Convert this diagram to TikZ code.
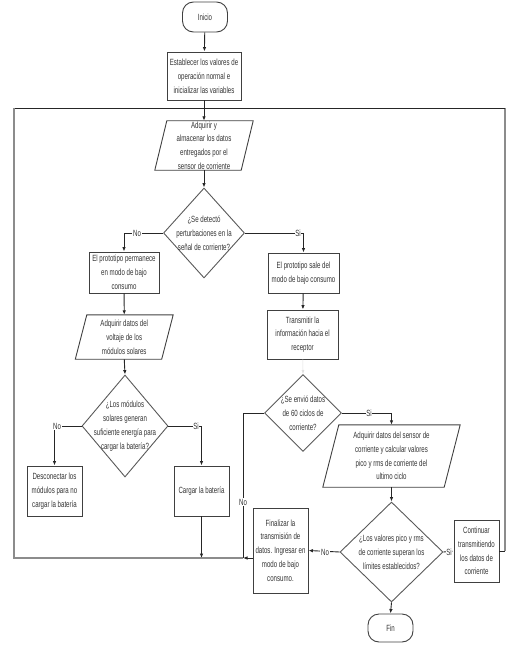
\documentclass[tikz,border=0pt]{standalone}
\usepackage{fontspec}
\newfontfamily\nar[FakeStretch=0.68]{Liberation Sans}
\usetikzlibrary{shapes.geometric,arrows.meta}
\newcommand\drawpara[2]{\draw[shp] ([xshift=#2]#1.north west) -- ([xshift=#2]#1.north east) -- ([xshift=-#2]#1.south east) -- ([xshift=-#2]#1.south west) -- cycle;}
\begin{document}
\begin{tikzpicture}[x=1pt,y=-1pt,
  every node/.style={font=\nar\fontsize{9}{13.8}\selectfont, text=black!80, align=center, inner sep=0pt},
  shp/.style={draw=black!75, line width=0.9pt},
  box/.style={shp, rectangle},
  dec/.style={draw=black!65, line width=0.9pt, diamond},
  iob/.style={rectangle},
  term/.style={shp, rectangle, rounded corners=11pt},
  con/.style={draw=black!85, line width=0.9pt},
  arr/.style={con, -{Latex[length=4.5pt,width=3.5pt]}},
  lbl/.style={fill=white, inner sep=0.6pt, font=\nar\fontsize{9}{10}\selectfont},
  loopl/.style={draw=black!45, line width=1.3pt}
]
\useasboundingbox (0,0) rectangle (511,650);

% nodes
\node[term, minimum width=45pt, minimum height=30pt] (start) at (205,17) {Inicio};
\node[box, minimum width=74pt, minimum height=48pt] (init) at (204,76) {Establecer los valores de\\operación normal e\\inicializar las variables};
\node[iob, minimum width=86pt, minimum height=49pt] (p1) at (204,145.5) {Adquirir y\\almacenar los datos\\entregados por el\\sensor de corriente};
\drawpara{p1}{6pt}
\node[dec, minimum width=81pt, minimum height=90pt] (d1) at (204,233) {};
\node (d1t) at (d1) {¿Se detectó\\perturbaciones en la\\señal de corriente?};

\node[box, minimum width=70pt, minimum height=41pt] (l1) at (124,272.5) {El prototipo permanece\\en modo de bajo\\consumo};
\node[iob, minimum width=86pt, minimum height=44pt] (pl) at (124.25,337) {Adquirir datos del\\voltaje de  los\\módulos solares};
\drawpara{pl}{5.75pt}
\node[dec, minimum width=86pt, minimum height=102pt] (dl) at (125,426) {};
\node (dlt) at (dl) {¿Los módulos\\solares generan\\suficiente energía para\\cargar la batería?};
\node[box, minimum width=55pt, minimum height=50pt] (desc) at (54.5,491) {Desconectar los\\módulos para no\\cargar la batería};
\node[box, minimum width=55pt, minimum height=50pt] (carg) at (201.5,491) {Cargar la batería};

\node[box, minimum width=71pt, minimum height=40pt] (r1) at (303.5,273) {El prototipo sale del\\modo de bajo consumo};
\node[box, minimum width=71pt, minimum height=49pt] (tr) at (302.5,334.5) {Transmitir la\\información hacia el\\receptor};
\node[dec, minimum width=77pt, minimum height=77pt] (dr1) at (303,413) {};
\node (dr1t) at (dr1) {¿Se envió datos\\de 60 ciclos de\\corriente?};
\node[iob, minimum width=121pt, minimum height=62pt] (pr) at (391.5,456) {Adquirir datos del sensor de\\corriente y calcular valores\\pico y rms de corriente del\\ultimo ciclo};
\drawpara{pr}{8pt}
\node[dec, minimum width=103pt, minimum height=100pt] (dr2) at (391.5,552) {};
\node (dr2t) at (dr2) {¿Los valores pico y rms\\de corriente superan los\\límites establecidos?};
\node[box, minimum width=55pt, minimum height=85pt] (fbox) at (280.5,550.5) {Finalizar la\\transmisión de\\datos. Ingresar en\\modo de bajo\\consumo.};
\node[box, minimum width=45pt, minimum height=62pt] (cont) at (476.5,551) {Continuar\\transmitiendo\\los datos de\\corriente};
\node[term, minimum width=45pt, minimum height=28pt] (fin) at (390.5,628) {Fin};

% loop coordinates
\coordinate (jt) at (204,108);
\coordinate (tlc) at (14,108);
\coordinate (trc) at (505,108);
\coordinate (rcc) at (505,551);
\coordinate (blc) at (14,558);
\coordinate (bj) at (243,558);

% connectors
\draw[arr] (start) -- (init);
\draw[arr] (init) -- (p1.north);
\draw[arr] (p1.south) -- (d1.north);
\draw[arr] (d1.west) -| (l1.north);
\draw[arr] (d1.east) -| (r1.north);
\draw[arr] (l1) -- (pl.north);
\draw[arr] (pl.south) -- (dl.north);
\draw[arr] (dl.west) -| (desc.north);
\draw[arr] (dl.east) -| (carg.north);
\draw[arr] (r1) -- (tr);
\draw[-{Latex[length=4pt,width=3pt]}, draw=black!12, line width=0.6pt] (tr) -- (dr1.north);
\draw[arr] (dr1.east) -| (pr.north);
\draw[arr] (pr.south) -- (dr2.north);
\draw[arr] (dr2.west) -- (fbox.east);
\draw[arr] (dr2.east) -- (cont.west);
\draw[arr] (dr2.south) -- (fin.north);

% return loop
\draw[con] (cont.east) -- (rcc);
\draw[loopl] (rcc) -- (trc);
\draw[con] (trc) -- (tlc);
\draw[loopl] (tlc) -- (blc) -- (bj);
\draw[con] (dr1.west) -| (bj);
\draw[arr] (fbox.west |- bj) -- (bj);
\draw[arr] (carg.south) -- (carg.south |- bj);

% labels
\node[lbl] (n1) at (137,233) {No};
\node[lbl] (s1) at (298,233) {Si};
\node[lbl] (n2) at (57,426) {No};
\node[lbl] (s2) at (196,426) {Si};
\node[lbl] (s3) at (369,413) {Si};
\node[lbl] (n3) at (243,502) {No};
\node[lbl] (n4) at (325,552) {No};
\node[lbl] (s4) at (449,552) {Si};
\end{tikzpicture}
\end{document}
